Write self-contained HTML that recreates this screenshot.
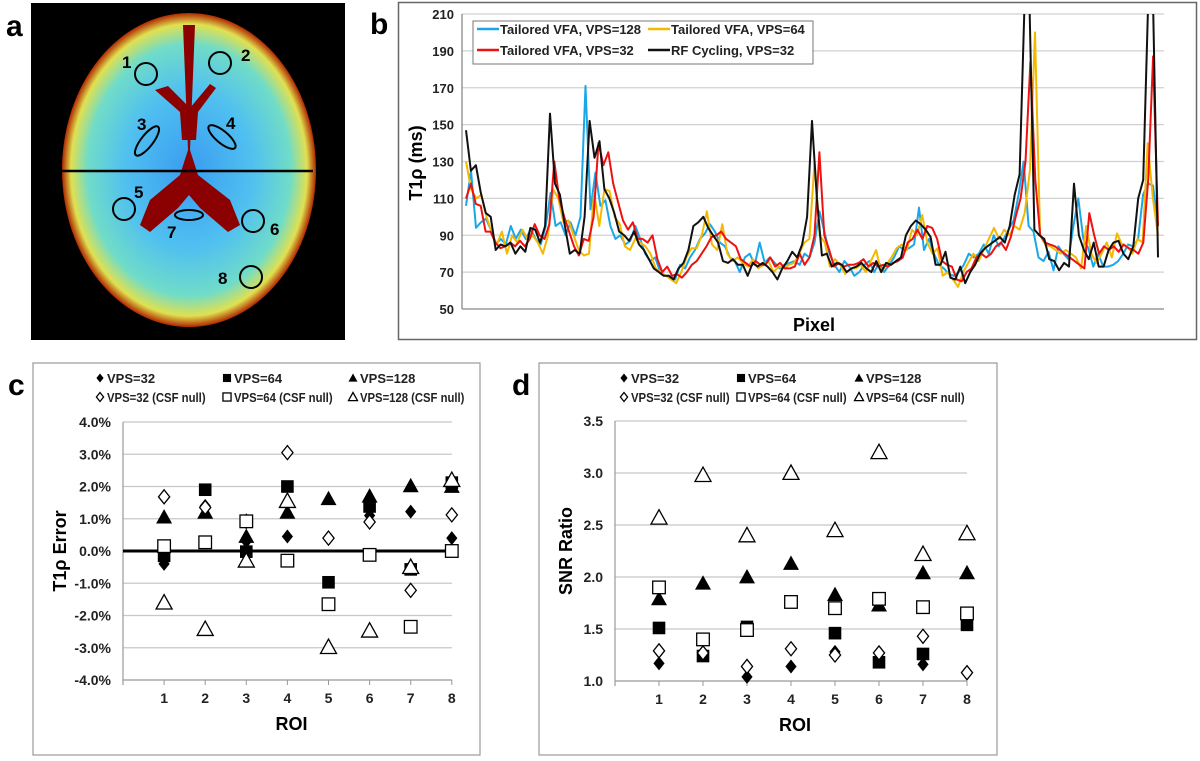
<!DOCTYPE html>
<html><head><meta charset="utf-8"><style>
body{margin:0;background:#fff;width:1200px;height:756px;overflow:hidden;font-family:"Liberation Sans",sans-serif}
svg text{font-family:"Liberation Sans",sans-serif;font-weight:bold}
</style></head><body>
<svg id="fig" width="1200" height="756" xmlns="http://www.w3.org/2000/svg">
<defs>
<radialGradient id="brainG" cx="50%" cy="50%" r="50%">
<stop offset="0%" stop-color="#3a9cf0"/><stop offset="50%" stop-color="#50c0f0"/><stop offset="80%" stop-color="#70dcc8"/><stop offset="93%" stop-color="#e0e050"/><stop offset="100%" stop-color="#b02800"/>
</radialGradient>
<clipPath id="clipB"><rect x="462" y="14" width="702" height="296"/></clipPath>
</defs>
<!-- panel a -->
<g>
<text x="6" y="36" font-size="30">a</text>
<rect x="31" y="3" width="314" height="337" fill="#000"/>
<ellipse cx="189" cy="170" rx="127" ry="157" fill="url(#brainG)"/>
<path d="M183,25 L188,150 L180,175 L150,200 L140,225 L150,232 L178,208 L189,195 L200,208 L228,232 L240,225 L230,200 L198,175 L190,150 L195,25 Z" fill="#8b0000"/>
<path d="M155,90 L180,112 L182,140 L196,140 L198,112 L216,88 L210,84 L190,108 L168,86 Z" fill="#8b0000"/>
<line x1="62" y1="171" x2="313" y2="171" stroke="#000" stroke-width="2.5"/>
<g fill="none" stroke="#000" stroke-width="2">
<circle cx="146" cy="74" r="11"/><circle cx="220" cy="63" r="11"/>
<ellipse cx="147" cy="141" rx="18" ry="6" transform="rotate(-52 147 141)"/>
<ellipse cx="222" cy="137" rx="17" ry="6" transform="rotate(40 222 137)"/>
<circle cx="124" cy="209" r="11"/><ellipse cx="189" cy="215" rx="14" ry="5"/>
<circle cx="253" cy="221" r="11"/><circle cx="251" cy="277" r="11"/>
</g>
<g font-size="17" fill="#000">
<text x="122" y="68">1</text><text x="241" y="61">2</text><text x="137" y="130">3</text><text x="226" y="129">4</text>
<text x="134" y="198">5</text><text x="270" y="235">6</text><text x="167" y="238">7</text><text x="218" y="284">8</text>
</g>
</g>
<!-- panel b -->
<text x="370" y="34" font-size="30">b</text>
<rect x="398.5" y="2.5" width="798" height="337" fill="#fff" stroke="#666" stroke-width="1.5"/>
<g id="pb"></g>
<!-- panel c -->
<text x="8" y="395" font-size="30">c</text>
<rect x="33" y="363" width="447" height="392" fill="#fff" stroke="#999" stroke-width="1.2"/>
<g id="pc"></g>
<!-- panel d -->
<text x="512" y="395" font-size="30">d</text>
<rect x="539" y="363" width="458" height="392" fill="#fff" stroke="#999" stroke-width="1.2"/>
<g id="pd"></g>
</svg>
<script>
const NS="http://www.w3.org/2000/svg";
// ---- panel b data ----
const bTicks=[50,70,90,110,130,150,170,190,210];
const seriesBlack=[147,125,128,113,102,100,82,85,84,86,80,84,81,94,93,86,95,156,118,112,95,80,82,80,100,152,132,141,115,110,102,92,90,87,92,85,82,77,72,70,68,68,66,72,75,82,95,97,100,94,90,86,76,75,77,74,74,68,75,73,75,73,70,66,72,76,81,78,85,100,152,110,79,80,73,75,74,70,72,73,75,72,70,76,70,75,74,76,78,90,95,98,96,93,89,74,74,81,67,66,73,64,70,74,80,83,85,87,89,86,95,112,123,215,215,93,90,88,77,76,71,75,73,118,90,82,77,86,73,73,82,86,87,80,77,84,110,120,215,215,78];
const seriesRed=[110,118,107,106,92,92,86,83,84,86,84,87,84,88,96,90,88,96,130,110,100,92,84,79,88,87,100,140,128,135,118,108,98,93,97,88,88,86,90,77,70,73,68,69,67,70,74,76,80,84,89,90,92,88,86,84,77,75,73,76,74,74,78,73,75,72,72,73,80,74,78,90,135,90,82,73,75,73,74,74,75,77,73,75,73,74,73,75,76,78,86,88,93,88,95,94,88,76,74,73,66,65,70,72,78,80,78,80,84,86,82,89,100,110,130,184,120,90,86,85,84,82,80,78,76,74,72,102,90,80,84,82,84,81,85,83,82,80,86,120,187,95];
const seriesBlue=[106,125,94,97,99,93,85,88,85,95,88,93,88,93,88,85,95,113,95,97,90,97,90,100,171,104,124,106,109,95,88,90,85,87,95,88,80,76,78,70,68,68,66,74,72,78,82,88,91,96,92,86,84,78,76,70,78,80,74,86,75,78,75,72,74,75,76,74,80,78,86,103,92,80,74,70,76,73,68,70,74,76,70,75,70,74,78,84,82,83,85,105,82,88,80,74,72,69,68,70,74,80,78,80,85,80,90,84,88,93,98,112,130,95,92,78,76,81,71,84,80,77,95,110,88,83,73,80,73,73,74,76,80,85,84,88,112,118,117,95];
const seriesYellow=[130,115,110,112,100,92,85,92,80,90,86,93,88,90,86,80,90,115,110,97,98,90,82,79,80,113,95,115,114,100,96,84,82,88,86,84,80,72,70,68,66,64,70,78,83,83,90,103,85,82,96,80,76,78,75,73,77,72,74,76,70,73,72,74,75,80,86,88,130,90,86,73,77,74,69,72,72,74,70,76,82,70,74,78,83,85,82,93,90,101,86,80,83,68,70,66,62,70,75,80,76,82,88,94,88,93,90,95,93,102,125,200,90,85,84,82,80,82,80,78,72,95,80,75,80,86,78,91,85,84,80,88,86,140,110,90];
const bNames=["Tailored VFA, VPS=128","Tailored VFA, VPS=64","Tailored VFA, VPS=32","RF Cycling, VPS=32"];
// ---- panel c data ----
const roiLabels=["1","2","3","4","5","6","7","8"];
const cTicks=[-4,-3,-2,-1,0,1,2,3,4];
const c32=[-0.4,1.4,0.3,0.45,0.38,1.1,1.22,0.4];
const c64=[-0.15,1.9,-0.02,2.0,-0.97,1.38,-0.57,2.12];
const c128=[1.05,1.2,0.45,1.2,1.62,1.7,2.02,2.0];
const c32n=[1.68,1.35,0.92,3.05,0.4,0.9,-1.22,1.12];
const c64n=[0.15,0.27,0.92,-0.3,-1.65,-0.12,-2.35,0.0];
const c128n=[-1.6,-2.42,-0.3,1.55,-2.98,-2.47,-0.5,2.2];
// ---- panel d data ----
const dTicks=[1.0,1.5,2.0,2.5,3.0,3.5];
const d32=[1.17,1.25,1.04,1.14,1.28,1.2,1.16,1.08];
const d64=[1.51,1.24,1.52,1.76,1.46,1.18,1.26,1.54];
const d128=[1.79,1.94,2.0,2.13,1.83,1.73,2.04,2.04];
const d32n=[1.29,1.27,1.14,1.31,1.25,1.27,1.43,1.08];
const d64n=[1.9,1.4,1.49,1.76,1.7,1.79,1.71,1.65];
const d128n=[2.57,2.98,2.4,3.0,2.45,3.2,2.22,2.42];

function mk(tag,attrs,parent,txt){const e=document.createElementNS(NS,tag);for(const k in attrs)e.setAttribute(k,attrs[k]);if(txt!==undefined)e.textContent=txt;parent.appendChild(e);return e;}

// ---- panel b ----
(function(){
const g=document.getElementById('pb');
const x0=462,x1=1164,yTop=14,yBot=309;
const ys=v=>yBot-(v-50)/(210-50)*(yBot-yTop);
bTicks.forEach(t=>{
 const l=mk('line',{x1:x0,x2:x1,y1:ys(t),y2:ys(t),stroke:t===50?'#888':'#d0d0d0','stroke-width':1.3},g);
 
 
 const tx=mk('text',{x:x0-8,y:ys(t)+5,'text-anchor':'end','font-size':13,fill:'#222'},g,String(t));
 
 
});
const ax=mk('line',{x1:x0,x2:x0,y1:yTop,y2:yBot,stroke:'#888','stroke-width':1.3},g);


const yt=mk('text',{x:0,y:0,transform:'translate(422,163) rotate(-90)','text-anchor':'middle','font-size':18},g,'T1ρ (ms)');


const xt=mk('text',{x:814,y:331,'text-anchor':'middle','font-size':18},g,'Pixel');


const cg=mk('g',{'clip-path':'url(#clipB)'},g);
const ser=[[seriesBlue,'#1aa7e8','series-vps128'],[seriesYellow,'#f5b800','series-vps64'],[seriesRed,'#ee1111','series-vps32'],[seriesBlack,'#111','series-rf-cycling']];
ser.forEach(([arr,c,n])=>{
 const n1=arr.length-1;
 const pts=arr.map((v,i)=>(x0+4+i/n1*(x1-x0-10)).toFixed(1)+','+ys(v).toFixed(1)).join(' ');
 const p=mk('polyline',{points:pts,fill:'none',stroke:c,'stroke-width':2,'stroke-linejoin':'round'},cg);
 
 
});
const lg=mk('g',{},g);


mk('rect',{x:473,y:21,width:340,height:43,fill:'#fff',stroke:'#777','stroke-width':1},lg);
const cols=['#1aa7e8','#f5b800','#ee1111','#111'];
const pos=[[477,34],[648,34],[477,55],[648,55]];
bNames.forEach((nm,i)=>{
 const [lx,ly]=pos[i];
 const ln=mk('line',{x1:lx,x2:lx+22,y1:ly-5,y2:ly-5,stroke:cols[i],'stroke-width':2.5},lg);
 
 
 const t=mk('text',{x:lx+23,y:ly,'font-size':13,fill:'#222'},lg,nm);
 
 
});
})();

function marker(g,type,cx,cy,open,s){
 const st=open?{fill:'#fff',stroke:'#000','stroke-width':1.3}:{fill:'#000'};
 let e;
 if(type==='d'){e=mk('polygon',Object.assign({points:`${cx},${cy-s} ${cx+s*0.8},${cy} ${cx},${cy+s} ${cx-s*0.8},${cy}`},st),g);}
 else if(type==='s'){e=mk('rect',Object.assign({x:cx-s*0.9,y:cy-s*0.9,width:s*1.8,height:s*1.8},st),g);}
 else {e=mk('polygon',Object.assign({points:`${cx},${cy-s} ${cx+s},${cy+s*0.8} ${cx-s},${cy+s*0.8}`},st),g);}
 return e;
}

function scatter(id,opt){
 const g=document.getElementById(id);
 const {x0,x1,yTop,yBot,vmin,vmax,ticks,fmt,step,series,legend,legendCols,legendY,title,titleX,zeroLine}=opt;
 const ys=v=>yBot-(v-vmin)/(vmax-vmin)*(yBot-yTop);
 const xs=i=>x0+step*(i+1);
 ticks.forEach(t=>{
  if(t!==vmin){const l=mk('line',{x1:x0,x2:x1,y1:ys(t),y2:ys(t),stroke:'#c8c8c8','stroke-width':1.2},g);
  
  }
  const tx=mk('text',{x:x0-12,y:ys(t)+5,'text-anchor':'end','font-size':14,fill:'#222'},g,fmt(t));
  
  
 });
 const ay=mk('line',{x1:x0,x2:x0,y1:yTop,y2:yBot+5,stroke:'#999','stroke-width':1.2},g);
 
 
 const axl=mk('line',{x1:x0,x2:x1,y1:yBot,y2:yBot,stroke:'#999','stroke-width':1.2},g);
 
 
 if(zeroLine){const z=mk('line',{x1:x0,x2:x1,y1:ys(0),y2:ys(0),stroke:'#000','stroke-width':3},g);
  
  }
 roiLabels.forEach((r,i)=>{
  const tk=mk('line',{x1:xs(i),x2:xs(i),y1:yBot,y2:yBot+5,stroke:'#999'},g);
  
  
  const t=mk('text',{x:xs(i),y:yBot+23,'text-anchor':'middle','font-size':14,fill:'#222'},g,r);
  
  
 });
 const xt=mk('text',{x:(x0+x1)/2+4,y:yBot+50,'text-anchor':'middle','font-size':18},g,'ROI');
 
 
 const yt=mk('text',{x:0,y:0,transform:`translate(${titleX},${(yTop+yBot)/2}) rotate(-90)`,'text-anchor':'middle','font-size':18},g,title);
 
 
 series.forEach(([arr,type,open,nm])=>{
  const sg=mk('g',{},g);
  
  
  arr.forEach((v,i)=>{
   const m=marker(sg,type,xs(i),ys(v),open,type==='s'?7:(type==='t'?8:7));
   
   
  });
 });
 legend.forEach((nm,i)=>{
  const col=i%3,row=Math.floor(i/3);
  const lx=legendCols[col],ly=legendY[row];
  const s=series[i];
  const m=marker(g,s[1],lx,ly-5,s[2],4.5);
  
  
  const at={x:lx+7,y:ly,'font-size':13,fill:'#222'};
  if(nm.length>10){at.textLength=nm.length*5.8;at.lengthAdjust='spacingAndGlyphs';}
  const t=mk('text',at,g,nm);
  
  
 });
}

scatter('pc',{x0:123,x1:452,yTop:422,yBot:680,vmin:-4,vmax:4,ticks:cTicks,fmt:t=>t.toFixed(1)+'%',step:41.1,
 series:[[c32,'d',false,'c-vps32'],[c64,'s',false,'c-vps64'],[c128,'t',false,'c-vps128'],[c32n,'d',true,'c-vps32-csf'],[c64n,'s',true,'c-vps64-csf'],[c128n,'t',true,'c-vps128-csf']],
 legend:['VPS=32','VPS=64','VPS=128','VPS=32 (CSF null)','VPS=64 (CSF null)','VPS=128 (CSF null)'],
 legendCols:[100,227,353],legendY:[383,402],title:'T1ρ Error',titleX:66,zeroLine:true});
scatter('pd',{x0:615,x1:967,yTop:421,yBot:681,vmin:1.0,vmax:3.5,ticks:dTicks,fmt:t=>t.toFixed(1),step:44,
 series:[[d32,'d',false,'d-vps32'],[d64,'s',false,'d-vps64'],[d128,'t',false,'d-vps128'],[d32n,'d',true,'d-vps32-csf'],[d64n,'s',true,'d-vps64-csf'],[d128n,'t',true,'d-vps128-csf']],
 legend:['VPS=32','VPS=64','VPS=128','VPS=32 (CSF null)','VPS=64 (CSF null)','VPS=64 (CSF null)'],
 legendCols:[624,741,859],legendY:[383,402],title:'SNR Ratio',titleX:572,zeroLine:false});
</script>
</body></html>
